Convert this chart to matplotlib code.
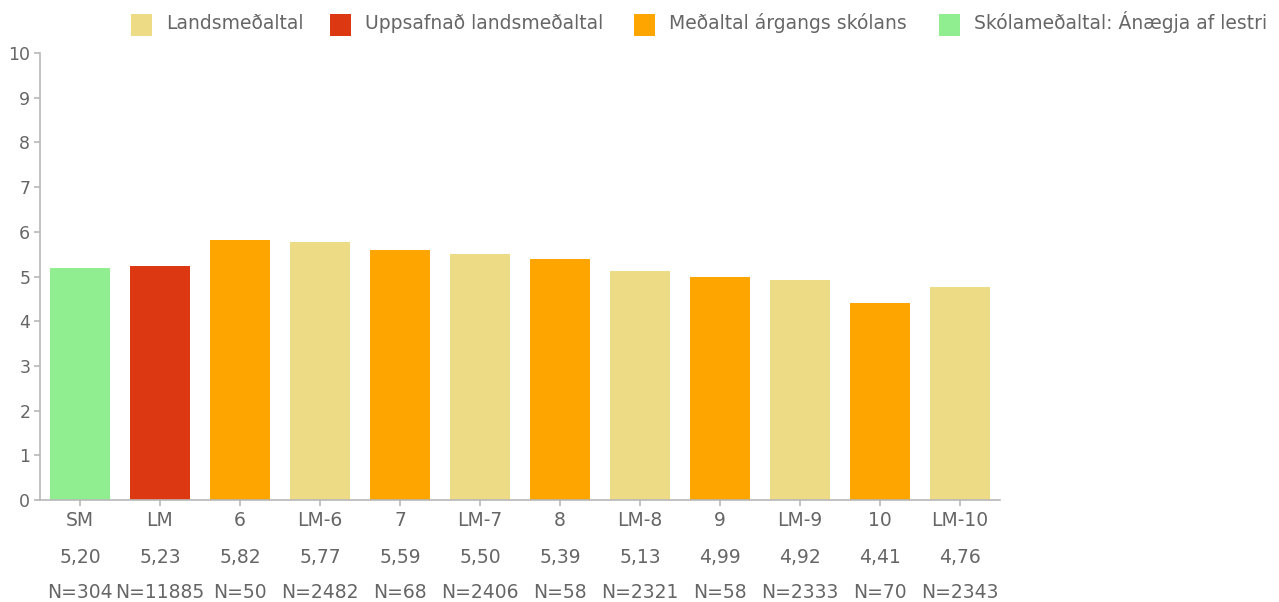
import numpy as np
import matplotlib
matplotlib.use("Agg")
import matplotlib.pyplot as plt
from matplotlib.patches import Rectangle

plt.rcParams['font.family'] = ['DejaVu Sans']

# data
categories = ['SM', 'LM', '6', 'LM-6', '7', 'LM-7', '8', 'LM-8', '9', 'LM-9', '10', 'LM-10']
values = [5.20, 5.23, 5.82, 5.77, 5.59, 5.50, 5.39, 5.13, 4.99, 4.92, 4.41, 4.76]
counts = [304, 11885, 50, 2482, 68, 2406, 58, 2321, 58, 2333, 70, 2343]
series = ['Skóla', 'Uppsafnað', 'Árgangur', 'Lands', 'Árgangur', 'Lands',
          'Árgangur', 'Lands', 'Árgangur', 'Lands', 'Árgangur', 'Lands']
legend_labels = ['Landsmeðaltal', 'Uppsafnað landsmeðaltal',
                 'Meðaltal árgangs skólans', 'Skólameðaltal: Ánægja af lestri']

colors = {'Lands': '#eddc85', 'Uppsafnað': '#dc3912',
          'Árgangur': '#ffa500', 'Skóla': '#90ee90'}
legend_colors = [colors['Lands'], colors['Uppsafnað'], colors['Árgangur'], colors['Skóla']]
text_col = '#666666'
axis_col = '#b8b8b8'

W, H = 1279, 602
fig = plt.figure(figsize=(W / 100, H / 100), dpi=100)
ax = fig.add_axes([40 / W, (H - 500) / H, 960 / W, 447 / H])

x = np.arange(len(categories))
ax.bar(x, values, width=0.75, color=[colors[s] for s in series])

ax.set_xlim(-0.5, len(categories) - 0.5)
ax.set_ylim(0, 10)
ax.set_yticks(range(0, 11))
ax.set_xticks(x)
ax.set_xticklabels([])

for s in ['top', 'right']:
    ax.spines[s].set_visible(False)
for s in ['left', 'bottom']:
    ax.spines[s].set_color(axis_col)
    ax.spines[s].set_linewidth(1.2)
ax.tick_params(axis='both', colors=axis_col, length=4, width=1.2)
ax.tick_params(axis='y', labelcolor=text_col, labelsize=12.5, pad=3)

# three rows of labels under the bars
row_offsets = [-26, -63, -98]
for xi, cat, v, n in zip(x, categories, values, counts):
    rows = [cat, f'{v:.2f}'.replace('.', ','), f'N={n}']
    for off, txt in zip(row_offsets, rows):
        ax.annotate(txt, xy=(xi, 0), xycoords=('data', 'axes fraction'),
                    xytext=(0, off), textcoords='offset pixels',
                    ha='center', va='baseline', fontsize=13.5, color=text_col)

# legend along the top
patch_x = [131, 330, 634, 939]
for px, lab, col in zip(patch_x, legend_labels, legend_colors):
    fig.patches.append(Rectangle((px / W, (H - 36) / H), 21 / W, 22 / H,
                                 transform=fig.transFigure, facecolor=col,
                                 edgecolor='none'))
    fig.text((px + 35) / W, (H - 29) / H, lab, ha='left', va='baseline',
             fontsize=13.5, color=text_col)

fig.savefig('out.png', dpi=100)
